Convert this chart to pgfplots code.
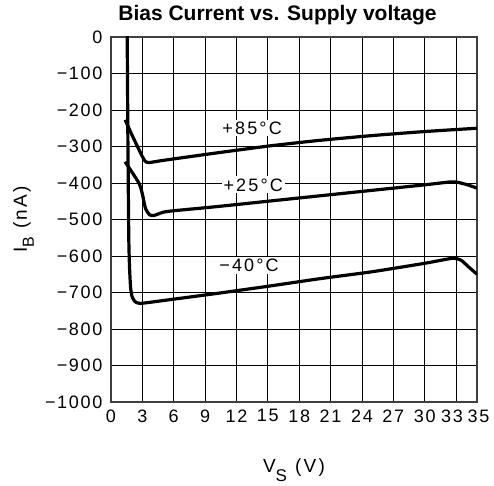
\documentclass[border=0pt]{standalone}
\usepackage{fontspec}
\setmainfont{Liberation Sans}
\newfontfamily\plotfont[LetterSpace=10]{Liberation Sans}
\newfontfamily\lblfont[LetterSpace=12]{Liberation Sans}
\usepackage{pgfplots}
\pgfplotsset{compat=1.18}
\newcommand{\mn}{−\kern1.5pt}
\begin{document}
\begin{tikzpicture}
\begin{axis}[
  scale only axis,
  width=366pt, height=365pt,
  xmin=0, xmax=35, ymin=-1000, ymax=0,
  xtick={0,3,6,9,12,15,18,21,24,27,30,33,35},
  ytick={-1000,-900,-800,-700,-600,-500,-400,-300,-200,-100,0},
  yticklabels={\mn1000,\mn900,\mn800,\mn700,\mn600,\mn500,\mn400,\mn300,\mn200,\mn100,0},
  xticklabels={0,3,6,9,12,15,18,21,24,27,30,33\kern8pt,\kern3pt35},
  tick style={draw=none},
  grid=major,
  grid style={black, line width=0.9pt},
  axis line style={line width=1.4pt, draw=black!75},
  ticklabel style={font=\fontsize{18}{21}\selectfont\plotfont},
  xticklabel style={yshift=-4pt},
  yticklabel style={xshift=-5pt},
  title={\fontsize{21}{24}\selectfont\bfseries Bias Current vs. Supply voltage},
  title style={at={(axis description cs:0.5,1)}, anchor=base, yshift=10pt, xshift=-16.5pt},
  xlabel={\fontsize{19}{22}\selectfont\lblfont V\raisebox{-9pt}{\fontsize{17}{20}\selectfont S}\kern8pt(V)},
  ylabel={\fontsize{19}{22}\selectfont\lblfont I\raisebox{-7pt}{\fontsize{16}{19}\selectfont B}\kern8pt(nA)},
  xlabel style={at={(axis description cs:0.5,0)}, anchor=base, yshift=-70pt},
  ylabel style={at={(axis description cs:-0.2295,0.5)}, anchor=base},
  clip=true,
]
% +85 C
\addplot[black, line width=3.2pt, smooth, tension=0.4] coordinates {
 (1.35,-227) (2.0,-268) (2.7,-310) (3.2,-338) (3.6,-344) (5,-338) (10,-318) (15,-299) (20,-283) (25,-270) (30,-259) (35,-250)};
% +25 C
\addplot[black, line width=3.2pt, smooth, tension=0.4] coordinates {
 (1.35,-342) (2.0,-370) (2.7,-402) (3.0,-430) (3.3,-470) (3.7,-487) (4.1,-489) (5,-480) (6,-476) (10,-465) (15,-450) (20,-435) (25,-420) (30,-405) (32.5,-397) (33.3,-399) (34.2,-406) (35,-414)};
% -40 C
\addplot[black, line width=3.2pt, smooth, tension=0.3] coordinates {
 (1.53,20) (1.55,0) (1.62,-300) (1.7,-550) (1.77,-630) (1.87,-685) (2.0,-710) (2.3,-725) (2.8,-730) (5,-722) (10,-703) (15,-683) (20,-662) (25,-643) (30,-620) (32.7,-606) (33.5,-612) (34.2,-630) (35,-650)};
\node[fill=white, inner sep=2pt, font=\fontsize{18}{21}\selectfont\lblfont] at (axis cs:13.5,-249) {+85°C};
\node[fill=white, inner sep=2pt, font=\fontsize{18}{21}\selectfont\lblfont] at (axis cs:13.6,-405) {+25°C};
\node[fill=white, inner sep=2pt, font=\fontsize{18}{21}\selectfont\lblfont] at (axis cs:13.2,-625) {−40°C};
\end{axis}
\pgfresetboundingbox
\path (current axis.south west) ++(-111pt,-83pt) rectangle ++(494pt,485pt);
\end{tikzpicture}
\end{document}
